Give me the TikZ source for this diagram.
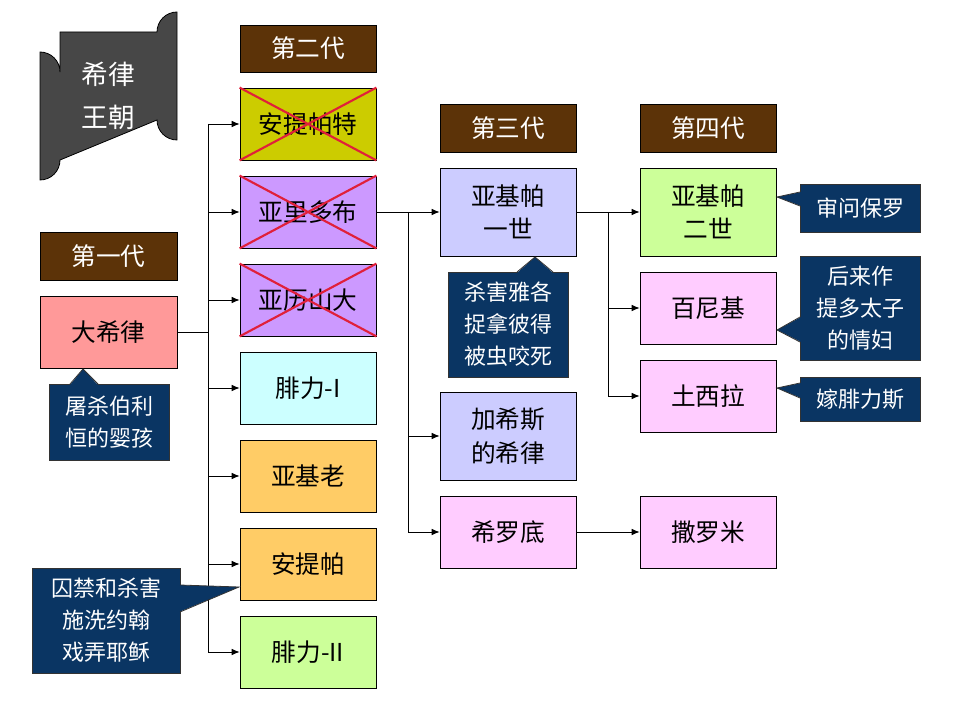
\documentclass[tikz,border=0pt]{standalone}
\usepackage{fontspec}
\setmainfont{Noto Sans CJK SC}
\usetikzlibrary{arrows.meta}
\definecolor{brownc}{HTML}{5C3308}
\definecolor{navy}{HTML}{0A3563}
\definecolor{olive}{HTML}{CCCC00}
\definecolor{purp}{HTML}{CC99FF}
\definecolor{cyanl}{HTML}{CCFFFF}
\definecolor{orng}{HTML}{FFCC66}
\definecolor{grnl}{HTML}{CCFF99}
\definecolor{pinkd}{HTML}{FF9999}
\definecolor{pinkl}{HTML}{FFCCFF}
\definecolor{lav}{HTML}{CCCCFF}
\definecolor{xred}{HTML}{E0203A}
\newcommand{\bx}[7]{\node[#6, minimum width={(#4-#2)*0.75pt}, minimum height={(#5-#3)*0.75pt}] (#1) at ({(#2+#4)/2},{(#3+#5)/2}) {#7};}
\begin{document}
\begin{tikzpicture}[x=0.75pt,y=-0.75pt,
  box/.style={draw=black, line width=0.6pt, inner sep=0pt, align=center, font=\fontsize{18.5}{25}\selectfont, text=black},
  gen/.style={box, fill=brownc, text=white},
  call/.style={draw=black!80, fill=navy, line width=0.6pt, inner sep=0pt, align=center, text=white, font=\fontsize{16.5}{24}\selectfont},
  arr/.style={-{Latex[length=6pt,width=5pt]}, line width=0.6pt},
  ln/.style={line width=0.6pt},
  xx/.style={xred, line width=1.6pt}]
\useasboundingbox (0,0) rectangle (960,720);
% logo
\fill[black!72, draw=black, line width=0.6pt] (60,32) -- (157,32) arc[start angle=180,end angle=270,radius=20] -- (177,140) arc[start angle=90,end angle=180,radius=20] -- (60,160) arc[start angle=0,end angle=90,radius=20] -- (40,52) arc[start angle=270,end angle=360,radius=20] -- cycle;
\node[text=white, align=center, font=\fontsize{20}{32}\selectfont] (logo) at (108.5,96) {希律\\王朝};
% generation headers
\bx{g1}{40}{232}{177}{280}{gen}{第一代}
\bx{g2}{240}{25}{376}{72}{gen}{第二代}
\bx{g3}{440}{104}{576}{152}{gen}{第三代}
\bx{g4}{640}{104}{776}{152}{gen}{第四代}
% first gen
\bx{herod}{40}{296}{177}{368}{box,fill=pinkd}{大希律}
% second gen
\bx{antipater}{240}{88}{376}{160}{box,fill=olive}{安提帕特}
\bx{aristo}{240}{176}{376}{248}{box,fill=purp}{亚里多布}
\bx{alex}{240}{264}{376}{336}{box,fill=purp}{亚历山大}
\bx{phil1}{240}{352}{376}{424}{box,fill=cyanl}{腓力-I}
\bx{arche}{240}{440}{376}{512}{box,fill=orng}{亚基老}
\bx{antipas}{240}{528}{376}{600}{box,fill=orng}{安提帕}
\bx{phil2}{240}{616}{376}{688}{box,fill=grnl}{腓力-II}
\foreach \n in {antipater,aristo,alex}{
  \draw[xx] (\n.north west) -- (\n.south east);
  \draw[xx] (\n.south west) -- (\n.north east);}
% third gen
\bx{agr1}{440}{168}{576}{256}{box,fill=lav}{亚基帕\\一世}
\bx{herodc}{440}{392}{576}{480}{box,fill=lav}{加希斯\\的希律}
\bx{herodias}{440}{496}{576}{568}{box,fill=pinkl}{希罗底}
% fourth gen
\bx{agr2}{640}{168}{776}{256}{box,fill=grnl}{亚基帕\\二世}
\bx{bern}{640}{272}{776}{344}{box,fill=pinkl}{百尼基}
\bx{drus}{640}{360}{776}{432}{box,fill=pinkl}{土西拉}
\bx{salome}{640}{496}{776}{568}{box,fill=pinkl}{撒罗米}
% connectors gen1 -> gen2
\coordinate (b1t) at (208,124);
\coordinate (b1b) at (208,652);
\draw[ln] (herod.east) -- (208,332);
\draw[ln] (b1t) -- (b1b);
\foreach \n in {antipater,aristo,alex,phil1,arche,antipas,phil2}
  \draw[arr] (208,0 |- \n.west) -- (\n.west);
% aristo -> gen3
\draw[ln] (aristo.east) -- (408,212);
\draw[ln] (408,212) -- (408,532);
\foreach \n in {agr1,herodc,herodias}
  \draw[arr] (408,0 |- \n.west) -- (\n.west);
% agr1 -> gen4
\draw[ln] (agr1.east) -- (608,212);
\draw[ln] (608,212) -- (608,396);
\foreach \n in {agr2,bern,drus}
  \draw[arr] (608,0 |- \n.west) -- (\n.west);
\draw[arr] (herodias.east) -- (salome.west);
% callouts
\bx{c1}{49}{384}{169}{460}{call}{屠杀伯利\\恒的婴孩}
\fill[navy] (70,385) -- (83,369) -- (98,385) -- cycle;
\draw[ln,black!80] (70,384) -- (83,369) -- (98,384);
\bx{c2}{32}{568}{180}{673}{call}{囚禁和杀害\\施洗约翰\\戏弄耶稣}
\fill[navy] (179,585) -- (239,587) -- (179,612) -- cycle;
\draw[ln,black!80] (180,585) -- (239,587) -- (180,612);
\bx{c3}{448}{272}{568}{377}{call}{杀害雅各\\捉拿彼得\\被虫咬死}
\fill[navy] (517,273) -- (535,257) -- (553,273) -- cycle;
\draw[ln,black!80] (517,272) -- (535,257) -- (553,272);
\bx{c4}{800}{184}{920}{232}{call}{审问保罗}
\fill[navy] (801,192) -- (777,197) -- (801,206) -- cycle;
\draw[ln,black!80] (800,192) -- (777,197) -- (800,206);
\bx{c5}{800}{256}{920}{360}{call}{后来作\\提多太子\\的情妇}
\fill[navy] (801,317) -- (777,330) -- (801,342) -- cycle;
\draw[ln,black!80] (800,317) -- (777,330) -- (800,342);
\bx{c6}{800}{377}{920}{421}{call}{嫁腓力斯}
\fill[navy] (801,383) -- (777,388) -- (801,398) -- cycle;
\draw[ln,black!80] (800,383) -- (777,388) -- (800,398);
\end{tikzpicture}
\end{document}
